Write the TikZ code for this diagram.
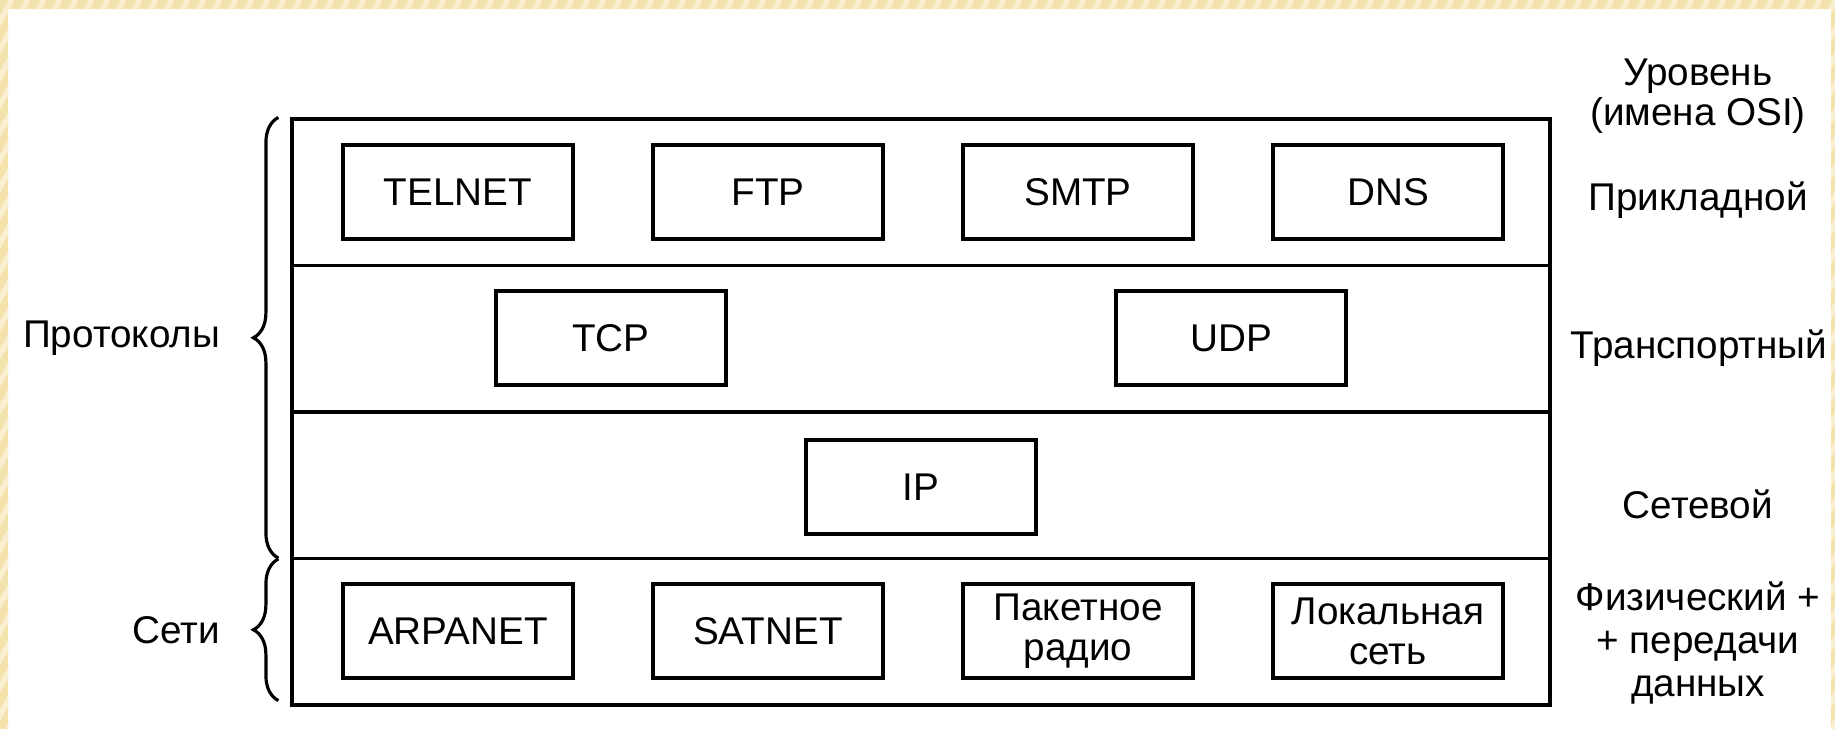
\documentclass[tikz,border=0pt]{standalone}
\usepackage{fontspec}
\setmainfont{Liberation Sans}
\usetikzlibrary{decorations.pathreplacing}

\definecolor{framebg}{HTML}{F4E2AC}
\definecolor{framestripe}{HTML}{FAEFCF}

\begin{document}
\begin{tikzpicture}[
    layer/.style={draw, line width=0.9pt, minimum width=12.58cm,
      minimum height=\layerh cm, inner sep=0pt},
    proto/.style={draw, line width=0.9pt, minimum width=2.30cm,
      minimum height=0.94cm, inner sep=0pt, align=center,
      font=\fontsize{11}{11.4}\selectfont},
    lvl/.style={align=center, font=\fontsize{11}{12.2}\selectfont},
    grp/.style={decorate, decoration={brace, amplitude=0.25cm}, line width=0.9pt}
  ]

    % 公共变量
    \def\layerh{1.465}     % 每层高度
    \def\toplayer{6.10}    % 最上层上边
    \def\colsep{3.10}      % 协议框水平间距
    \def\lblx{16.98}       % 右侧层名的位置

    \useasboundingbox (0,0) rectangle (18.35,7.29);
    \fill[white] (0,0) rectangle (18.35,7.29);

    % 四层
    \foreach \i in {1,...,4} {
      \pgfmathsetmacro{\ypos}{\toplayer-(\i-0.5)*\layerh};
      \node[layer] (lay\i) at (9.21, \ypos) {};
    }

    % 应用层:4个协议
    \foreach \name [count=\i] in {TELNET, FTP, SMTP, DNS} {
      \pgfmathsetmacro{\xpos}{4.58+(\i-1)*\colsep};
      \node[proto] (app\i) at (\xpos, 5.37) {\name};
    }

    % 传输层
    \node[proto] (tcp) at (6.11, 3.91) {TCP};
    \node[proto] (udp) at (12.31, 3.91) {UDP};

    % 网络层
    \node[proto] (ip) at (9.21, 2.42) {IP};

    % 物理层:4种网络
    \foreach \name [count=\i] in {ARPANET, SATNET, Пакетное\\радио, Локальная\\сеть} {
      \pgfmathsetmacro{\xpos}{4.58+(\i-1)*\colsep};
      \node[proto] (net\i) at (\xpos, 0.98) {\name};
    }

    % 右侧层名
    \node[lvl, font=\fontsize{11}{8.8}\selectfont] (lvlhead) at (\lblx, 6.33) {Уровень\\(имена OSI)};
    \node[lvl] (lvlapp) at (\lblx, 5.29) {Прикладной};
    \node[lvl, anchor=east, inner sep=0pt] (lvltrans) at (18.28, 3.81) {Транспортный};
    \node[lvl] (lvlnet) at (\lblx, 2.25) {Сетевой};
    \node[lvl] (lvlphys) at (\lblx, 0.86) {Физический +\\+ передачи\\данных};

    % 左侧花括号
    \draw[grp] ([xshift=-0.12cm, yshift=0.02cm]lay3.south west)
      -- ([xshift=-0.12cm]lay1.north west)
      node[midway, left=0.45cm, lvl] (protlbl) {Протоколы};
    \draw[grp] ([xshift=-0.12cm, yshift=0.06cm]lay4.south west)
      -- ([xshift=-0.12cm, yshift=-0.02cm]lay4.north west)
      node[midway, left=0.45cm, lvl] (netlbl) {Сети};

    % 外框
    \begin{scope}[even odd rule]
      \clip (0,0) rectangle (18.35,7.29) (0.08,0) rectangle (18.31,7.20);
      \fill[framebg] (0,0) rectangle (18.35,7.29);
      \foreach \s in {-4.4,-4.24,...,18.4} {
        \draw[framestripe, line width=1.6pt] (\s,0) -- ++(4.2,7.29);
      }
    \end{scope}

  \end{tikzpicture}
\end{document}
